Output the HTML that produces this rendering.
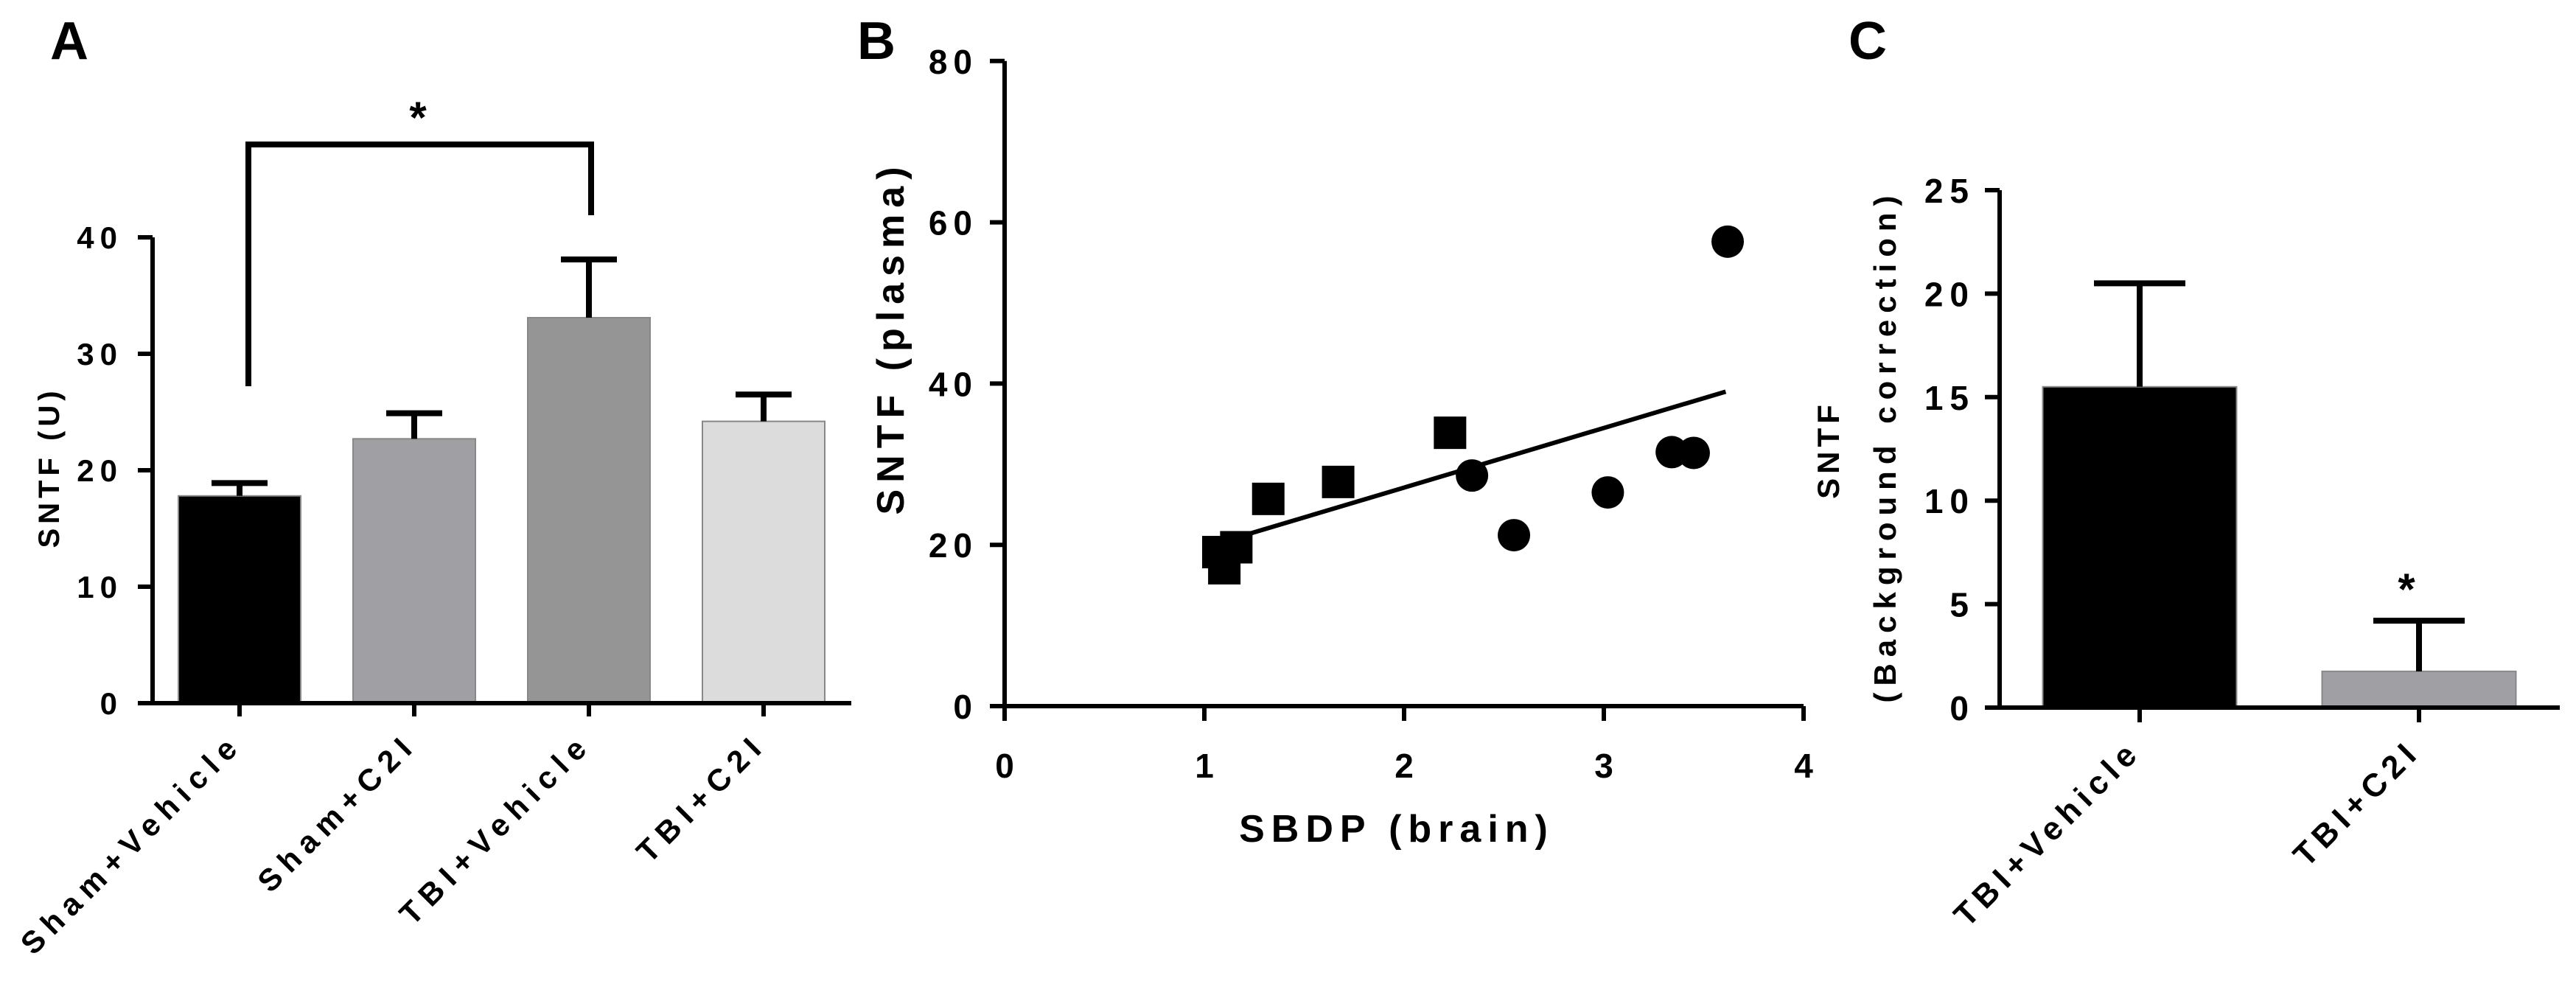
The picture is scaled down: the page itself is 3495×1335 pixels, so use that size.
<!DOCTYPE html>
<html><head><meta charset="utf-8"><style>
html,body{margin:0;padding:0;background:#fff;}
svg{display:block;font-family:"Liberation Sans",Arial,sans-serif;font-weight:bold;}
</style></head><body>
<svg id="fig" width="3495" height="1335" viewBox="0 0 3495 1335" xmlns="http://www.w3.org/2000/svg">
<text x="68" y="80" font-size="72">A</text>
<text x="1163" y="80" font-size="72">B</text>
<text x="2508" y="80" font-size="72">C</text>
<g id="pa"></g>
<g id="pb"></g>
<g id="pc"></g>
</svg>
<script>
const NS="http://www.w3.org/2000/svg";
// Panel A data
const aCats=["Sham+Vehicle","Sham+C2I","TBI+Vehicle","TBI+C2I"];
const aMeans=[17.8,22.7,33.1,24.2];
const aErr=[1.1,2.2,5.0,2.3];
const aColors=["#000000","#a0a0a4","#959595","#dcdcdc"];
const aTicks=[0,10,20,30,40];
// Panel B data
const bSqX=[1.07,1.10,1.16,1.32,1.67,2.23];
const bSqY=[19.1,17.1,19.7,25.7,27.8,33.9];
const bCiX=[2.34,2.55,3.02,3.34,3.45,3.62];
const bCiY=[28.6,21.2,26.5,31.5,31.4,57.6];
const bFitX=[1.12,3.61];
const bFitY=[20.6,39.0];
const bXTicks=[0,1,2,3,4];
const bYTicks=[0,20,40,60,80];
// Panel C data
const cCats=["TBI+Vehicle","TBI+C2I"];
const cMeans=[15.5,1.75];
const cErr=[5.0,2.45];
const cColors=["#000000","#a0a0a4"];
const cTicks=[0,5,10,15,20,25];

function mk(p,tag,attrs,txt){const e=document.createElementNS(NS,tag);for(const k in attrs)e.setAttribute(k,attrs[k]);if(txt!==undefined)e.textContent=txt;p.appendChild(e);return e;}

// ---------- Panel A ----------
(function(){
const g=document.getElementById('pa');
const y=v=>954-v*15.8;
const cx=i=>325+i*237;
const bw=166;
aCats.forEach((c,i)=>{
  const r=mk(g,'rect',{x:cx(i)-bw/2,y:y(aMeans[i]),width:bw,height:y(0)-y(aMeans[i]),fill:aColors[i],stroke:'#888','stroke-width':2});
  
  
  const e=mk(g,'path',{d:`M${cx(i)} ${y(aMeans[i])}V${y(aMeans[i]+aErr[i])}M${cx(i)-38} ${y(aMeans[i]+aErr[i])}H${cx(i)+38}`,stroke:'#000','stroke-width':8,fill:'none'});
  
  
  const t=mk(g,'line',{x1:cx(i),x2:cx(i),y1:954,y2:972,stroke:'#000','stroke-width':6});
  
  
  const l=mk(g,'text',{x:0,y:0,'font-size':42,'letter-spacing':10,'text-anchor':'end',transform:`translate(${cx(i)+6},${1012}) rotate(-45)`},c);
  
  
});
aTicks.forEach(v=>{
  const t=mk(g,'line',{x1:187,x2:207,y1:y(v),y2:y(v),stroke:'#000','stroke-width':6});
  
  
  const l=mk(g,'text',{x:167,y:y(v)+15,'font-size':42,'letter-spacing':8,'text-anchor':'end'},String(v));
  
  
});
const ax=mk(g,'path',{d:`M207 ${y(40)}V954M187 954H1155`,stroke:'#000','stroke-width':6,fill:'none'});


const br=mk(g,'path',{d:'M337 524V196H802V292',stroke:'#000','stroke-width':8,fill:'none'});


const st=mk(g,'text',{x:567,y:180,'font-size':60,'text-anchor':'middle'},'*');


const yt=mk(g,'text',{x:0,y:0,'font-size':40,'letter-spacing':6,'text-anchor':'middle',transform:'translate(80,634) rotate(-90)'},'SNTF (U)');


})();

// ---------- Panel B ----------
(function(){
const g=document.getElementById('pb');
const x=v=>1363+v*271;
const y=v=>958-v*10.94;
bYTicks.forEach(v=>{
  const t=mk(g,'line',{x1:1343,x2:1363,y1:y(v),y2:y(v),stroke:'#000','stroke-width':6});
  
  
  const l=mk(g,'text',{x:1327,y:y(v)+17,'font-size':46,'letter-spacing':8,'text-anchor':'end'},String(v));
  
  
});
bXTicks.forEach(v=>{
  const t=mk(g,'line',{x1:x(v),x2:x(v),y1:958,y2:978,stroke:'#000','stroke-width':6});
  
  
  const l=mk(g,'text',{x:x(v),y:1055,'font-size':46,'text-anchor':'middle'},String(v));
  
  
});
const ax=mk(g,'path',{d:`M1363 ${y(80)}V958H${x(4)}`,stroke:'#000','stroke-width':6,fill:'none'});


const fl=mk(g,'line',{x1:x(bFitX[0]),y1:y(bFitY[0]),x2:x(bFitX[1]),y2:y(bFitY[1]),stroke:'#000','stroke-width':6});


bSqX.forEach((v,i)=>{
  const r=mk(g,'rect',{x:x(v)-22,y:y(bSqY[i])-22,width:44,height:44,fill:'#000'});
  
  
});
bCiX.forEach((v,i)=>{
  const c=mk(g,'circle',{cx:x(v),cy:y(bCiY[i]),r:22,fill:'#000'});
  
  
});
const xt=mk(g,'text',{x:1895,y:1142,'font-size':52,'letter-spacing':9,'text-anchor':'middle'},'SBDP (brain)');


const yt=mk(g,'text',{x:0,y:0,'font-size':52,'letter-spacing':9,'text-anchor':'middle',transform:'translate(1226,458) rotate(-90)'},'SNTF (plasma)');


})();

// ---------- Panel C ----------
(function(){
const g=document.getElementById('pc');
const y=v=>960-v*28.08;
const cx=i=>2903+i*379;
const bw=263;
cCats.forEach((c,i)=>{
  const r=mk(g,'rect',{x:cx(i)-bw/2,y:y(cMeans[i]),width:bw,height:y(0)-y(cMeans[i]),fill:cColors[i],stroke:'#888','stroke-width':2});
  
  
  const e=mk(g,'path',{d:`M${cx(i)} ${y(cMeans[i])}V${y(cMeans[i]+cErr[i])}M${cx(i)-62} ${y(cMeans[i]+cErr[i])}H${cx(i)+62}`,stroke:'#000','stroke-width':8,fill:'none'});
  
  
  const t=mk(g,'line',{x1:cx(i),x2:cx(i),y1:960,y2:980,stroke:'#000','stroke-width':6});
  
  
  const l=mk(g,'text',{x:0,y:0,'font-size':44,'letter-spacing':8,'text-anchor':'end',transform:`translate(${cx(i)+4},${1022}) rotate(-45)`},c);
  
  
});
cTicks.forEach(v=>{
  const t=mk(g,'line',{x1:2693,x2:2713,y1:y(v),y2:y(v),stroke:'#000','stroke-width':6});
  
  
  const l=mk(g,'text',{x:2680,y:y(v)+17,'font-size':46,'letter-spacing':9,'text-anchor':'end'},String(v));
  
  
});
const ax=mk(g,'path',{d:`M2713 ${y(25)}V960M2693 960H3473`,stroke:'#000','stroke-width':6,fill:'none'});


const st=mk(g,'text',{x:cx(1)-17,y:y(cMeans[1]+cErr[1])-22,'font-size':60,'text-anchor':'middle'},'*');


const yt=mk(g,'text',{x:0,y:0,'font-size':42,'letter-spacing':6,'text-anchor':'middle',transform:'translate(2495,610) rotate(-90)'},'SNTF');


const yt2=mk(g,'text',{x:0,y:0,'font-size':42,'letter-spacing':9,'text-anchor':'middle',transform:'translate(2572,605) rotate(-90)'},'(Background correction)');


})();
</script>
</body></html>
